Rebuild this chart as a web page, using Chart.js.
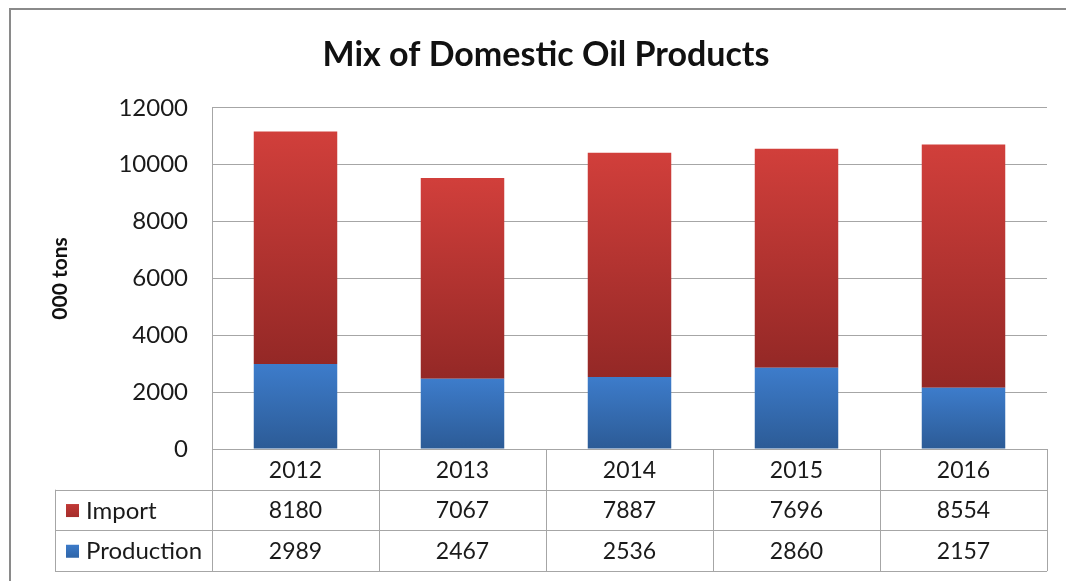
<!DOCTYPE html>
<html>
<head>
<meta charset="utf-8">
<script src="https://cdn.jsdelivr.net/npm/chart.js@4.4.0/dist/chart.umd.min.js"></script>
<style>
  html, body { margin: 0; padding: 0; background: #fff; }
  #wrap { width: 1066px; height: 581px; position: relative; }
</style>
</head>
<body>
<div id="wrap"><canvas id="oilChart"></canvas></div>
<script>
const years = ["2012", "2013", "2014", "2015", "2016"];
const importValues = [8180, 7067, 7887, 7696, 8554];
const productionValues = [2989, 2467, 2536, 2860, 2157];
const seriesNames = ["Import", "Production"];

const FONT = "Lato, 'Liberation Sans', sans-serif";
const TEXT = "#1a1a1a";
const LINE = "#a6a6a6";

// Verlauf je Balkensegment (oben hell, unten dunkel)
function segmentFill(c, lightCol, darkCol, solid) {
    const chart = c.chart;
    const y = chart.scales.y;
    if (!chart.chartArea || !y) return solid;
    const i = c.dataIndex;
    const base = c.datasetIndex === 0 ? 0 : productionValues[i];
    const val = c.datasetIndex === 0 ? productionValues[i] : importValues[i];
    const g = chart.ctx.createLinearGradient(0, y.getPixelForValue(base + val), 0, y.getPixelForValue(base));
    g.addColorStop(0, lightCol);
    g.addColorStop(1, darkCol);
    return g;
}

// Datentabelle unter der Grafik + Rahmen
const tablePlugin = {
    id: "dataTable",
    afterDraw(chart) {
        const ctx = chart.ctx;
        const x = chart.scales.x;
        const area = chart.chartArea;
        const rowTop = area.bottom;
        const rowH = 40.7;
        const legendLeft = 55;
        const cat = (area.right - area.left) / years.length;

        ctx.save();
        // Rahmen
        ctx.strokeStyle = "#8a8a8a";
        ctx.lineWidth = 2;
        ctx.beginPath();
        ctx.moveTo(10, 600);
        ctx.lineTo(10, 9);
        ctx.lineTo(1080, 9);
        ctx.stroke();

        ctx.strokeStyle = LINE;
        ctx.lineWidth = 1;
        ctx.beginPath();
        for (let i = 0; i <= years.length; i++) {
            const px = Math.round(area.left + i * cat) + 0.5;
            ctx.moveTo(px, rowTop);
            ctx.lineTo(px, rowTop + rowH * 3);
        }
        ctx.moveTo(legendLeft + 0.5, rowTop + rowH);
        ctx.lineTo(legendLeft + 0.5, rowTop + rowH * 3);
        for (let r = 1; r <= 3; r++) {
            const py = Math.round(rowTop + rowH * r) + 0.5;
            ctx.moveTo(legendLeft, py);
            ctx.lineTo(area.right, py);
        }
        ctx.stroke();

        ctx.font = "23px " + FONT;
        ctx.fillStyle = TEXT;
        ctx.textAlign = "center";
        ctx.textBaseline = "middle";
        years.forEach((yr, i) => {
            const cx = x.getPixelForValue(i);
            ctx.fillText(yr, cx, rowTop + rowH * 0.5 + 1);
            ctx.fillText(String(importValues[i]), cx, rowTop + rowH * 1.5 + 1);
            ctx.fillText(String(productionValues[i]), cx, rowTop + rowH * 2.5 + 1);
        });

        const markers = [["#c33936", "#a52d2b"], ["#3d7ccb", "#2f65a8"]];
        ctx.font = "24px " + FONT;
        seriesNames.forEach((name, r) => {
            const cy = rowTop + rowH * (1.5 + r);
            const g = ctx.createLinearGradient(0, cy - 7, 0, cy + 7);
            g.addColorStop(0, markers[r][0]);
            g.addColorStop(1, markers[r][1]);
            ctx.fillStyle = g;
            ctx.fillRect(66, cy - 6, 13, 13);
            ctx.fillStyle = TEXT;
            ctx.textAlign = "left";
            ctx.fillText(name, 86, cy + 1);
        });
        ctx.restore();
    }
};

new Chart(document.getElementById("oilChart"), {
    type: "bar",
    data: {
        labels: years,
        datasets: [
            {
                label: "Production",
                data: productionValues,
                backgroundColor: c => segmentFill(c, "#3d7ccb", "#2c5b96", "#3571b8"),
                barPercentage: 0.5,
                categoryPercentage: 1
            },
            {
                label: "Import",
                data: importValues,
                backgroundColor: c => segmentFill(c, "#d13f3b", "#942826", "#b53431"),
                barPercentage: 0.5,
                categoryPercentage: 1
            }
        ]
    },
    options: {
        responsive: true,
        maintainAspectRatio: false,
        animation: false,
        layout: { padding: { left: 45, right: 19, top: 0, bottom: 132 } },
        plugins: {
            legend: { display: false },
            tooltip: { enabled: false },
            title: {
                display: true,
                text: "Mix of Domestic Oil Products",
                color: "#111",
                font: { family: FONT, size: 34, weight: "bold" },
                padding: { top: 35, bottom: 32 }
            }
        },
        scales: {
            x: {
                stacked: true,
                display: false
            },
            y: {
                stacked: true,
                min: 0,
                max: 12000,
                ticks: {
                    stepSize: 2000,
                    color: TEXT,
                    padding: 24,
                    font: { family: FONT, size: 24 },
                    callback: v => String(v)
                },
                grid: { color: LINE, drawTicks: false },
                border: { color: LINE },
                title: {
                    display: true,
                    text: "000 tons",
                    color: "#111",
                    font: { family: FONT, size: 21, weight: "bold" },
                    padding: 3
                },
                afterFit(scale) { scale.width = 167; }
            }
        }
    },
    plugins: [tablePlugin]
});
</script>
</body>
</html>
